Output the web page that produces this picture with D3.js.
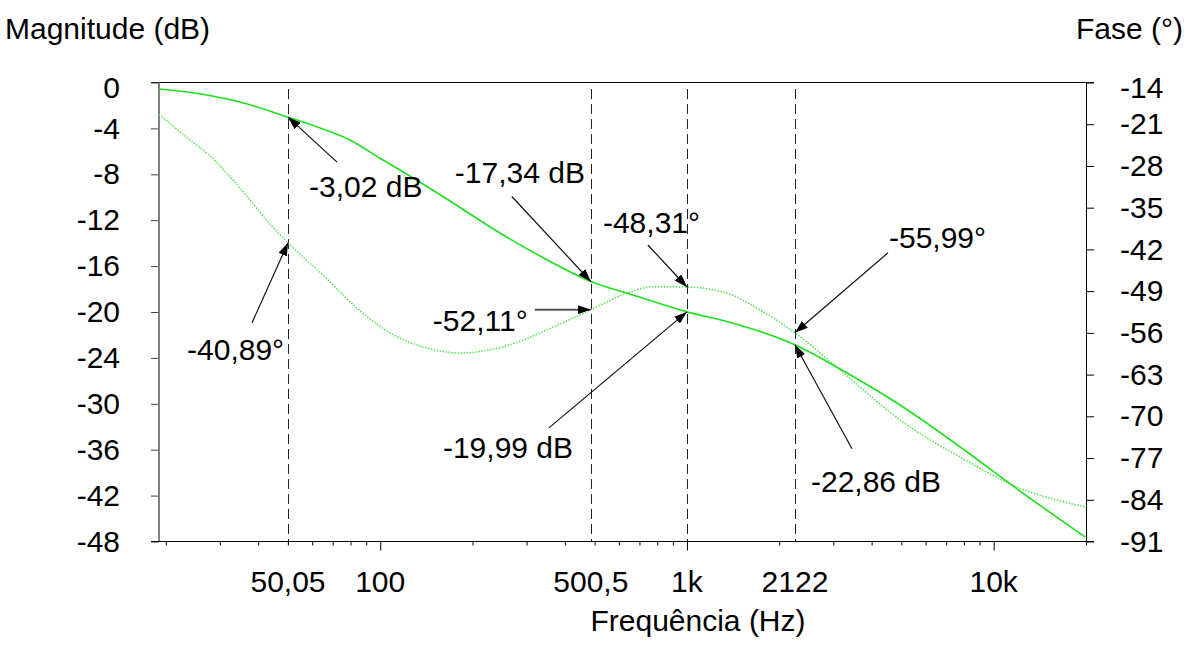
<!DOCTYPE html>
<html>
<head>
<meta charset="utf-8">
<script src="https://cdn.jsdelivr.net/npm/d3@7"></script>
<style>
body { margin: 0; background: #fff; }
text { font-family: "Liberation Sans", Arial, sans-serif; font-size: 30px; fill: #000; }
</style>
</head>
<body>
<svg id="chart" width="1187" height="654"></svg>
<script>
// magnitude curve (dB)
var magFreqs = [19, 27.2, 34.9, 50.05, 63.7, 79.7, 99.8, 116, 168.9, 245.8, 332, 486, 667, 1000, 1350, 2250, 3156, 4951, 8190, 11560, 19860];
var magValues = [-0.57, -1.09, -1.7, -3.02, -3.97, -5.01, -6.6, -7.62, -10.33, -13.12, -15.12, -17.34, -18.52, -19.99, -20.83, -22.86, -25.45, -30.16, -36.3, -40.74, -47.41];

// phase curve (degrees)
var phaseFreqs = [19, 24, 27.2, 34.9, 43.7, 50.05, 67.1, 84.7, 107.7, 134.8, 182, 252, 366.8, 486, 636, 777, 1000, 1350, 1731, 2250, 3156, 4951, 8190, 11306, 19860];
var phaseValues = [-19.33, -23.65, -25.83, -31.7, -37.74, -40.89, -46.96, -52.0, -56.02, -58.2, -59.38, -58.32, -55.02, -52.11, -49.36, -48.26, -48.31, -49.36, -52.16, -55.99, -62.23, -70.61, -77.49, -81.35, -85.21];

// axis ticks
var magTicks = [0, -4, -8, -12, -16, -20, -24, -30, -36, -42, -48];
var phaseTicks = [-14, -21, -28, -35, -42, -49, -56, -63, -70, -77, -84, -91];
var majorFreqs = [100, 1000, 10000];
var minorFreqs = [20, 30, 40, 50, 60, 70, 80, 90, 200, 300, 400, 500, 600, 700, 800, 900,
                  2000, 3000, 4000, 5000, 6000, 7000, 8000, 9000, 20000];

// cursor lines and x labels
var markerFreqs = [50.05, 486, 1000, 2250];
var xLabelFreqs = [50.05, 100, 486, 1000, 2250, 10000];
var xLabelTexts = ["50,05", "100", "500,5", "1k", "2122", "10k"];

// annotated points
var annotSeries = ["mag", "phase", "mag", "phase", "phase", "mag", "phase", "mag"];
var annotFreqs = [50.05, 50.05, 486, 486, 1000, 1000, 2250, 2250];
var annotValues = [-3.02, -40.89, -17.34, -52.11, -48.31, -19.99, -55.99, -22.86];
var annotTexts = ["-3,02 dB", "-40,89°", "-17,34 dB", "-52,11°", "-48,31°", "-19,99 dB", "-55,99°", "-22,86 dB"];

// label / arrow tail offsets from the arrow tip (px)
var annotLayout = [
    {tx: 21, ty: 80, ax: 49, ay: 45},
    {tx: -101, ty: 117, ax: -36, ay: 80},
    {tx: -136, ty: -98, ax: -79, ay: -85},
    {tx: -158, ty: 21, ax: -56, ay: 0},
    {tx: -84, ty: -54, ax: -39, ay: -42},
    {tx: -244, ty: 146, ax: -138, ay: 116},
    {tx: 94, ty: -85, ax: 93, ay: -80},
    {tx: 16, ty: 147, ax: 57, ay: 104}
];

var plot = { left: 159, right: 1086, top: 82.5, bottom: 541.5 };

var svg = d3.select("#chart");

var x = d3.scaleLog().domain([19, 20000]).range([plot.left, plot.right]);
var yMag = d3.scaleLinear()
    .domain(magTicks)
    .range(magTicks.map(function(d, i) {
        return plot.top + i * (plot.bottom - plot.top) / (magTicks.length - 1);
    }));
var yPhase = d3.scaleLinear().domain([-14, -91]).range([plot.top, plot.bottom]);

var fmt = function(d) { return String(d); };

// frame line on top
svg.append("line")
    .attr("x1", 151).attr("x2", 1094)
    .attr("y1", plot.top).attr("y2", plot.top)
    .attr("stroke", "#000");

// left axis
var leftAxis = svg.append("g")
    .attr("transform", "translate(" + plot.left + ",0)")
    .call(d3.axisLeft(yMag).tickValues(magTicks).tickSize(8).tickPadding(31).tickFormat(fmt));
leftAxis.select(".domain").remove();
leftAxis.selectAll(".tick line").attr("stroke", "#444");
leftAxis.selectAll(".tick text").filter(function(d) { return d === 0; }).attr("dy", "0.5em");
svg.append("line")
    .attr("x1", plot.left).attr("x2", plot.left)
    .attr("y1", plot.top).attr("y2", plot.bottom)
    .attr("stroke", "#808080").attr("stroke-width", 2);

// right axis
var rightAxis = svg.append("g")
    .attr("transform", "translate(" + plot.right + ",0)")
    .call(d3.axisRight(yPhase).tickValues(phaseTicks).tickSize(8).tickPadding(26).tickFormat(fmt));
rightAxis.select(".domain").remove();
rightAxis.selectAll(".tick line").attr("stroke", "#000");
rightAxis.selectAll(".tick text").filter(function(d) { return d === -14; }).attr("dy", "0.5em");
svg.append("line")
    .attr("x1", plot.right + 0.5).attr("x2", plot.right + 0.5)
    .attr("y1", plot.top).attr("y2", plot.bottom)
    .attr("stroke", "#000");

// bottom axis
var minorAxis = svg.append("g")
    .attr("transform", "translate(0," + plot.bottom + ")")
    .call(d3.axisBottom(x).tickValues(minorFreqs).tickSize(4).tickFormat(""));
minorAxis.select(".domain").remove();
var majorAxis = svg.append("g")
    .attr("transform", "translate(0," + plot.bottom + ")")
    .call(d3.axisBottom(x).tickValues(majorFreqs).tickSize(9).tickFormat(""));
majorAxis.select(".domain").remove();
svg.append("line")
    .attr("x1", 151).attr("x2", 1094)
    .attr("y1", plot.bottom).attr("y2", plot.bottom)
    .attr("stroke", "#000");

svg.selectAll(".xlabel")
    .data(xLabelFreqs)
    .enter()
    .append("text")
    .attr("class", "xlabel")
    .attr("x", function(d) { return x(d); })
    .attr("y", 592)
    .attr("text-anchor", "middle")
    .text(function(d, i) { return xLabelTexts[i]; });

// cursor lines
svg.selectAll(".cursor")
    .data(markerFreqs)
    .enter()
    .append("line")
    .attr("class", "cursor")
    .attr("x1", function(d) { return Math.round(x(d)) + 0.5; })
    .attr("x2", function(d) { return Math.round(x(d)) + 0.5; })
    .attr("y1", 89)
    .attr("y2", plot.bottom)
    .attr("stroke", "#222")
    .attr("stroke-dasharray", "10,5");

// curves
var magLine = d3.line()
    .x(function(d, i) { return x(magFreqs[i]); })
    .y(function(d) { return yMag(d); })
    .curve(d3.curveMonotoneX);
var phaseLine = d3.line()
    .x(function(d, i) { return x(phaseFreqs[i]); })
    .y(function(d) { return yPhase(d); })
    .curve(d3.curveMonotoneX);

svg.append("path")
    .datum(phaseValues)
    .attr("d", phaseLine)
    .attr("fill", "none")
    .attr("stroke", "#4ee84e")
    .attr("stroke-width", 1.5)
    .attr("stroke-dasharray", "1.5,1.5");

svg.append("path")
    .datum(magValues)
    .attr("d", magLine)
    .attr("fill", "none")
    .attr("stroke", "#1fe01f")
    .attr("stroke-width", 1.6);

// arrowhead
svg.append("defs").append("marker")
    .attr("id", "arrow")
    .attr("viewBox", "0 0 13 9")
    .attr("refX", 13)
    .attr("refY", 4.5)
    .attr("markerWidth", 13)
    .attr("markerHeight", 9)
    .attr("markerUnits", "userSpaceOnUse")
    .attr("orient", "auto")
    .append("path")
    .attr("d", "M0,0L13,4.5L0,9Z")
    .attr("fill", "#000");

// annotations
var tipX = function(i) { return x(annotFreqs[i]); };
var tipY = function(i) {
    return annotSeries[i] === "mag" ? yMag(annotValues[i]) : yPhase(annotValues[i]);
};

svg.selectAll(".annotArrow")
    .data(annotLayout)
    .enter()
    .append("line")
    .attr("class", "annotArrow")
    .attr("x1", function(d, i) { return tipX(i) + d.ax; })
    .attr("y1", function(d, i) { return tipY(i) + d.ay; })
    .attr("x2", function(d, i) { return tipX(i); })
    .attr("y2", function(d, i) { return tipY(i); })
    .attr("stroke", function(d) { return d.ay === 0 ? "#555" : "#111"; })
    .attr("stroke-width", function(d) { return d.ay === 0 ? 2 : 1.2; })
    .attr("marker-end", "url(#arrow)");

svg.selectAll(".annotText")
    .data(annotLayout)
    .enter()
    .append("text")
    .attr("class", "annotText")
    .attr("x", function(d, i) { return tipX(i) + d.tx; })
    .attr("y", function(d, i) { return tipY(i) + d.ty; })
    .text(function(d, i) { return annotTexts[i]; });

// titles
svg.append("text").attr("x", 5).attr("y", 39).text("Magnitude (dB)");
svg.append("text").attr("x", 1183).attr("y", 39).attr("text-anchor", "end").text("Fase (°)");
svg.append("text").attr("x", 698).attr("y", 631).attr("text-anchor", "middle").text("Frequência (Hz)");
</script>
</body>
</html>
